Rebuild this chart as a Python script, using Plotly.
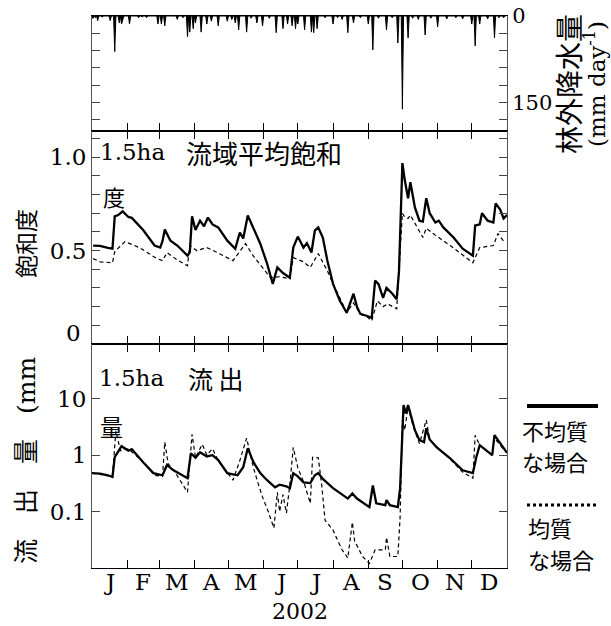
import plotly.graph_objects as go

# ---------------- data ----------------
months = ["J", "F", "M", "A", "M", "J", "J", "A", "S", "O", "N", "D"]
month_start = [0, 31, 59, 90, 120, 151, 181, 212, 243, 273, 304, 334, 365]
year_label = "2002"

# open-field precipitation events (day of year, mm/day)
rain_day = [0, 1, 3, 5, 9, 16, 20, 24, 26, 27, 33, 41, 44, 48, 58, 61, 64, 75, 80, 84, 86, 89, 91,
            96, 101, 105, 111, 119, 123, 126, 129, 136, 140, 145, 150, 156, 162, 168, 172, 176, 179,
            181, 187, 193, 195, 198, 205, 212, 216, 220, 225, 230, 236, 243, 247, 252, 259, 264,
            269, 273, 278, 282, 287, 293, 298, 304, 312, 320, 326, 334, 337, 341, 348, 354, 358, 362]
rain_mm = [3, 4, 3, 8, 2, 8, 62, 12, 14, 6, 14, 3, 2, 3, 14, 14, 17, 6, 3, 36, 28, 22, 12,
           28, 14, 9, 17, 9, 6, 12, 24, 28, 4, 12, 17, 4, 29, 22, 14, 17, 22,
           14, 24, 28, 29, 22, 3, 14, 3, 6, 29, 12, 3, 14, 59, 4, 24, 3,
           47, 162, 38, 4, 6, 33, 4, 19, 5, 3, 5, 14, 52, 14, 5, 38, 3, 3]

# saturation degree, heterogeneous (solid) and homogeneous (dashed)
sat_het_day = [1, 7, 14, 18, 20, 23, 27, 32, 35, 45, 55, 60, 62, 64, 69, 75, 84, 86, 88, 91, 95,
               98.5, 102, 106, 111, 119, 126, 130, 133, 137, 142, 148, 154, 159, 163, 168, 174,
               177, 181, 186, 189, 193, 196, 199, 203, 207, 212, 218, 224, 227, 230, 233, 236,
               242, 246, 249, 252, 256, 259, 264, 268, 270, 273, 275, 278, 280, 284, 288, 291,
               294, 297, 302, 305, 309, 318, 326, 335, 337, 341, 343, 348, 353, 355, 359, 362, 365]
sat_het = [0.527, 0.525, 0.515, 0.51, 0.683, 0.69, 0.71, 0.68, 0.675, 0.61, 0.527, 0.516, 0.55,
           0.613, 0.553, 0.527, 0.473, 0.49, 0.683, 0.61, 0.66, 0.63, 0.677, 0.64, 0.624, 0.553,
           0.51, 0.597, 0.565, 0.688, 0.62, 0.537, 0.43, 0.322, 0.41, 0.38, 0.355, 0.516, 0.575,
           0.516, 0.54, 0.49, 0.607, 0.624, 0.57, 0.446, 0.322, 0.231, 0.167, 0.22, 0.269, 0.2,
           0.161, 0.15, 0.14, 0.339, 0.32, 0.247, 0.30, 0.27, 0.24, 0.39, 0.968, 0.88, 0.78,
           0.866, 0.731, 0.66, 0.655, 0.78, 0.70, 0.65, 0.66, 0.624, 0.57, 0.51, 0.473, 0.634,
           0.64, 0.70, 0.66, 0.65, 0.753, 0.72, 0.672, 0.69]
sat_hom_day = [1, 7, 18, 20, 29, 42, 57, 62, 66, 75, 84, 86, 92, 101, 110, 124, 135, 142, 150,
               157, 165, 174, 177, 186, 192, 199, 207, 212, 224, 227, 230, 236, 242, 246, 251,
               256, 260, 268, 273, 275, 278, 280, 291, 294, 300, 315, 335, 341, 353, 357, 363]
sat_hom = [0.457, 0.44, 0.435, 0.495, 0.548, 0.515, 0.457, 0.446, 0.489, 0.45, 0.419, 0.527,
           0.50, 0.516, 0.49, 0.446, 0.537, 0.47, 0.409, 0.355, 0.36, 0.35, 0.462, 0.44, 0.41,
           0.484, 0.392, 0.322, 0.17, 0.195, 0.22, 0.16, 0.145, 0.124, 0.231, 0.2, 0.215, 0.188,
           0.70, 0.68, 0.672, 0.69, 0.57, 0.62, 0.591, 0.527, 0.435, 0.516, 0.527, 0.591, 0.543]

# runoff (mm/day), heterogeneous (solid) and homogeneous (dashed)
q_het_day = [0, 7, 14, 18, 20, 26, 32, 35, 45, 54, 62, 66, 71, 79, 84, 87, 91, 95, 101, 106,
             111, 119, 128, 133, 137, 142, 148, 154, 161, 165, 171, 174, 177, 181, 186, 192,
             196, 199, 203, 212, 225, 229, 233, 244, 247, 250, 258, 259, 262, 269, 271, 274,
             276, 278, 284, 288, 292, 294, 297, 303, 315, 326, 335, 338, 341, 347, 352, 354,
             359, 363, 365]
q_het = [0.48, 0.47, 0.44, 0.41, 0.92, 1.44, 1.2, 1.28, 0.75, 0.48, 0.44, 0.67, 0.55, 0.44,
         0.39, 1.08, 0.9, 1.13, 0.95, 1.0, 0.82, 0.48, 0.44, 0.61, 1.33, 0.75, 0.48, 0.36, 0.27,
         0.30, 0.28, 0.26, 0.48, 0.42, 0.33, 0.32, 0.44, 0.48, 0.38, 0.26, 0.17, 0.21, 0.17,
         0.12, 0.29, 0.14, 0.13, 0.16, 0.13, 0.12, 0.26, 7.7, 5.5, 7.7, 2.77, 1.84, 1.7, 3.0,
         1.9, 1.38, 0.88, 0.54, 0.48, 0.92, 1.5, 1.2, 1.0, 2.26, 1.6, 1.22, 1.1]
q_hom_day = [0, 18, 21, 25, 32, 45, 55, 62, 64, 67, 73, 84, 88, 91, 97, 101, 106, 111, 124,
             130, 136, 142, 146, 150, 155, 160, 163, 165, 168, 171, 174, 177, 181, 187, 192,
             194, 199, 202, 205, 212, 216, 220, 225, 229, 231, 234, 238, 244, 249, 258, 259,
             262, 269, 271, 273, 275, 278, 282, 288, 294, 297, 303, 315, 326, 335, 337, 341,
             347, 352, 354, 359, 363]
q_hom = [0.48, 0.42, 2.7, 1.2, 1.3, 0.75, 0.44, 0.42, 1.7, 0.7, 0.5, 0.22, 2.35, 0.9, 1.56,
         1.0, 1.3, 0.8, 0.36, 0.8, 2.0, 0.6, 0.32, 0.18, 0.1, 0.051, 0.22, 0.1, 0.2, 0.094, 0.3,
         1.38, 0.6, 0.3, 0.14, 0.92, 0.9, 0.3, 0.07, 0.047, 0.031, 0.021, 0.015, 0.065, 0.03,
         0.023, 0.016, 0.012, 0.021, 0.021, 0.035, 0.016, 0.016, 0.08, 4.2, 2.77, 7.1, 3.5, 1.6,
         4.2, 1.9, 1.4, 0.85, 0.5, 0.39, 2.26, 1.5, 1.2, 1.0, 2.0, 1.5, 1.2]

# ---------------- figure ----------------
rain_by_day = dict(zip(rain_day, rain_mm))
days = list(range(365))
rain_daily = [rain_by_day.get(d, 0) for d in days]

SERIF = "DejaVu Serif"
CJK = "Noto Sans CJK JP"

fig = go.Figure()
fig.add_trace(go.Scatter(x=days, y=rain_daily, mode="lines", fill="tozeroy",
                         line=dict(color="black", width=1), fillcolor="black",
                         xaxis="x", yaxis="y", showlegend=False))
fig.add_trace(go.Scatter(x=sat_hom_day, y=sat_hom, mode="lines",
                         line=dict(color="black", width=1.2, dash="4px,3px"),
                         xaxis="x2", yaxis="y2", showlegend=False))
fig.add_trace(go.Scatter(x=sat_het_day, y=sat_het, mode="lines",
                         line=dict(color="black", width=2.3),
                         xaxis="x2", yaxis="y2", showlegend=False))
fig.add_trace(go.Scatter(x=q_hom_day, y=q_hom, mode="lines",
                         line=dict(color="black", width=1.2, dash="4px,3px"),
                         xaxis="x3", yaxis="y3", showlegend=False))
fig.add_trace(go.Scatter(x=q_het_day, y=q_het, mode="lines",
                         line=dict(color="black", width=2.3),
                         xaxis="x3", yaxis="y3", showlegend=False))

H = 552.0
def py(Y):
    return (568 - Y) / H
def px(X):
    return (X - 92) / 415.0

d_top = [py(131), 1.0]
d_mid = [py(344), py(131)]
d_bot = [0.0, py(344)]

xcommon = dict(range=[0, 365], tickmode="array", tickvals=month_start, showticklabels=False,
               ticks="inside", ticklen=8, tickcolor="black", tickwidth=1, automargin=False,
               showline=True, linecolor="black", linewidth=1, showgrid=False, zeroline=False)

ycommon = dict(ticks="inside", ticklen=8, tickcolor="#444", tickwidth=1, showline=True,
               linecolor="#555", linewidth=1, showgrid=False, zeroline=False, automargin=False,
               tickfont=dict(family=SERIF, size=23, color="black"))

fig.update_layout(
    width=611, height=626, autosize=False,
    margin=dict(l=92, r=104, t=16, b=58, pad=0),
    paper_bgcolor="white", plot_bgcolor="white",
    xaxis=dict(xcommon, domain=[0, 1], anchor="y", mirror=True),
    xaxis2=dict(xcommon, domain=[0, 1], anchor="y2", mirror="ticks"),
    xaxis3=dict(xcommon, domain=[0, 1], anchor="y3", mirror="ticks"),
    yaxis=dict(ycommon, domain=d_top, anchor="x", range=[200, 0], side="right",
               tickmode="array", tickvals=[0, 150], ticktext=["0", "150"], mirror="ticks",
               minor=dict(tickmode="linear", tick0=0, dtick=30, ticks="inside", ticklen=8,
                          tickcolor="#444"),
               tickfont=dict(family=SERIF, size=21, color="black")),
    yaxis2=dict(ycommon, domain=d_mid, anchor="x2", range=[0, 1.14],
                tickmode="array", tickvals=[0, 0.5, 1.0], ticktext=["", "0.5", "1.0"],
                mirror="ticks",
                minor=dict(tickmode="linear", tick0=0, dtick=0.1, ticks="inside", ticklen=8,
                           tickcolor="#444")),
    yaxis3=dict(ycommon, domain=d_bot, anchor="x3", type="log", range=[-2, 1.97],
                tickmode="array", tickvals=[0.1, 1, 10], ticktext=["0.1", "1", "10"],
                mirror="ticks"),
)

ann = []
def add(text, X, Y, family, size, xanchor="left", angle=0):
    ann.append(dict(x=px(X), xref="paper", y=py(Y), yref="paper", text=text, showarrow=False,
                    xanchor=xanchor, yanchor="middle", textangle=angle,
                    font=dict(family=family, size=size, color="black")))

# month letters and year
for i, m in enumerate(months):
    ann.append(dict(x=(month_start[i] + month_start[i + 1]) / 2, xref="x3", y=py(582), yref="paper",
                    text=m, showarrow=False, xanchor="center", yanchor="middle",
                    font=dict(family=SERIF, size=23, color="black")))
add(year_label, 300, 611, SERIF, 22, xanchor="center")
# lower "0" label of saturation axis
add("0", 83, 333, SERIF, 23, xanchor="right")
# in-panel titles
add("1.5ha", 98, 152, SERIF, 23)
add("流域平均飽和", 184, 152, CJK, 26)
add("度", 101, 196, CJK, 22)
add("1.5ha", 97, 378, SERIF, 23)
add("流 出", 186, 378, CJK, 25)
add("量", 98, 426, CJK, 23)
# axis titles
add("飽和度", 25, 244, CJK, 23, xanchor="center", angle=-90)
add("流　出　量　<span style='font-family:DejaVu Serif'>(mm</span>", 24, 461, CJK, 25,
    xanchor="center", angle=-90)
add("林外降水量", 568, 84, CJK, 28, xanchor="center", angle=-90)
add("(mm day<sup>-1</sup>)", 595, 84, SERIF, 23, xanchor="center", angle=-90)
# legend text
add("不均質", 520, 430, CJK, 22)
add("な場合", 520, 461, CJK, 22)
add("均質", 526, 527, CJK, 22)
add("な場合", 526, 559, CJK, 22)
fig.update_layout(annotations=ann)

fig.update_layout(shapes=[
    dict(type="line", xref="paper", yref="paper", x0=px(527), x1=px(598), y0=py(406), y1=py(406),
         line=dict(color="black", width=4)),
    dict(type="line", xref="paper", yref="paper", x0=px(527), x1=px(598), y0=py(505), y1=py(505),
         line=dict(color="black", width=3, dash="dot")),
])

fig.write_html("out.html")
